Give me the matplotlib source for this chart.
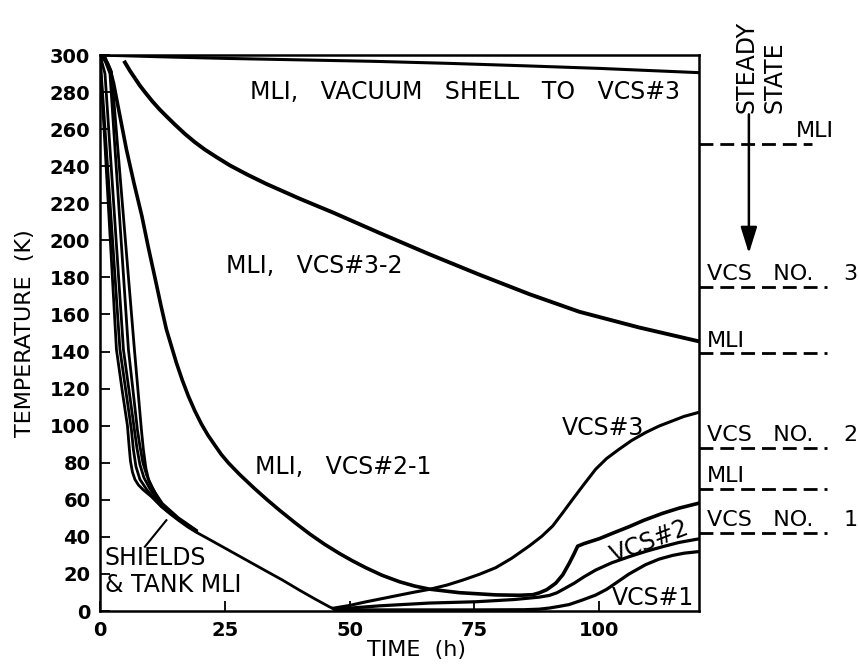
import matplotlib
matplotlib.use('Agg')
import matplotlib.pyplot as plt

plt.rcParams['font.family'] = 'DejaVu Sans'

# MLI between vacuum shell and VCS#3
vac_t = [0, 13, 25, 40, 55, 70, 85, 100, 120]
vac_T = [300, 299, 298.2, 297.4, 296.6, 295.5, 294.2, 292.8, 290.5]

# MLI between VCS#3 and VCS#2
m32_t = [5, 6, 7, 8, 9, 10.5, 12, 13.3, 15, 17, 19, 21, 23.3, 26, 29.5, 33.3, 40, 46.7,
         56, 66, 76, 86, 96, 108, 120]
m32_T = [296, 291.5, 287.5, 283.5, 280, 275, 270.5, 267, 262.5, 257.5, 253, 249, 245, 240.5,
         235.5, 230.5, 222.5, 215, 204, 192.5, 181.5, 171, 161.5, 153, 145.5]

# MLI between VCS#2 and VCS#1
m21_t = [0, 1, 2, 2.7, 4, 5.3, 6.8, 8.4, 9.7, 11, 12.2, 13.3, 14.3, 15.3, 16.5, 17.7, 19,
         20.3, 21.6, 23, 24.3, 25.7, 28, 31, 33.5, 36, 39, 42, 45, 48, 50.5, 53.3, 56.5, 60,
         63, 66, 72, 79.3, 84, 86.7, 88, 89.5, 91.3, 92.7, 94, 95, 95.7, 97, 100, 103, 106,
         109, 112.7, 116, 119.7]
m21_T = [300, 298.5, 292, 285, 267, 249, 231, 213, 196, 180, 165, 152, 143, 134, 124.5, 116,
         108, 101, 95, 89.5, 84.5, 80, 73.6, 66, 60, 54.3, 47.8, 41.6, 36, 31, 27.2, 23.3,
         19.3, 15.8, 13.5, 11.8, 9.9, 8.7, 8.5, 8.8, 9.8, 11.5, 15, 19.5, 25.7, 31, 35, 36.4,
         39, 42.3, 45.5, 49, 52.7, 55.5, 58]

# vapor cooled shields
vcs3_t = [46.7, 50, 53, 56.7, 60, 63, 66, 69.5, 72.7, 76, 79.3, 82.5, 86, 88.5, 90.7, 92.7,
          94.7, 97, 99.3, 101.5, 104, 106.5, 109.3, 112, 114.7, 117, 119.7]
vcs3_T = [1.5, 3, 4.8, 6.8, 8.6, 10.2, 11.7, 14, 16.7, 19.8, 23.4, 28.5, 35.1, 40.3, 45.9,
          53, 60.3, 68.5, 76.5, 82.3, 87.3, 92, 96.3, 99.8, 102.6, 105, 107]

vcs2_t = [47.3, 56, 66, 75.3, 83, 88, 90, 91.5, 93, 95, 97, 99.3, 102.5, 106, 109.5, 112.7,
          116, 119.7]
vcs2_T = [1, 2.8, 4.3, 5, 6.2, 7.5, 8.4, 9.8, 12, 15, 18.5, 22.1, 26, 29.3, 32.3, 34.7, 37,
          38.8]

vcs1_t = [47, 60, 75, 85, 88, 90, 92, 94, 96.5, 99.3, 101.5, 103.3, 106, 109.3, 112, 114.7,
          117, 119.7]
vcs1_T = [0.6, 0.6, 0.6, 0.7, 1, 1.6, 2.5, 3.5, 5.8, 8.6, 11.7, 15, 20, 25, 28, 30, 31.2, 32]

# shields & tank MLI bundle (first one continues down to the bottom)
shA_t = [0, 3.3, 4.5, 5.5, 5.8, 6.1, 6.5, 7, 7.7, 8.7, 10.3, 12.3, 14, 15.7, 17.5, 19.3,
         22, 24, 28, 33, 36.5, 40, 43, 46, 47]
shA_T = [299, 141, 118, 100, 90, 81, 75, 71, 68, 65.3, 61.7, 56.3, 52.5, 49, 45.5,
         42.5, 38.5, 35.5, 29.5, 22, 16.8, 11.2, 6.6, 2.2, 1]
shB_t = [0, 4.0, 6.3, 6.7, 7.2, 8, 9.5, 12.3, 15.7, 19.3]
shB_T = [300, 141, 97.7, 87, 78, 71, 65, 56.5, 49.3, 42.8]
shC_t = [0.3, 1, 4.7, 6.9, 7.4, 8, 8.8, 10, 12.3, 15.7, 19.3]
shC_T = [297, 290, 141, 97.7, 88, 79, 72, 66, 57, 49.6, 43]
shD_t = [0, 1, 2, 5.7, 7.5, 8, 8.6, 9.4, 10.5, 12.3, 15.7, 19.3]
shD_T = [300, 297, 290, 141, 97.7, 89, 80, 73, 66.5, 57.5, 50, 43.3]
shE_t = [0.5, 1.5, 2.3, 6.9, 8.3, 8.7, 9.2, 9.8, 11, 12.5, 15.7, 19.3]
shE_T = [298, 296, 291, 141, 97.7, 87, 77, 70, 64, 58, 50.3, 43.6]
shields = [(shA_t, shA_T), (shB_t, shB_T), (shC_t, shC_T), (shD_t, shD_T), (shE_t, shE_T)]

leader_t = [9, 13.3]
leader_T = [34.7, 49]

# steady state levels shown right of the plot
steady_T = [252, 175, 139, 88, 66, 42]
steady_lbl = ['MLI', 'VCS   NO.', 'MLI', 'VCS   NO.', 'MLI', 'VCS   NO.']
steady_num = ['', '3', '', '2', '', '1']
steady_end = [142.6, 145.6, 145.6, 145.6, 145.6, 145.6]

xticks = [0, 25, 50, 75, 100]
yticks = list(range(0, 301, 20))

fig = plt.figure(figsize=(8.59, 6.68), dpi=100)
ax = fig.add_axes([0.1164, 0.0853, 0.6973, 0.8323])

ax.plot(vac_t, vac_T, 'k-', lw=2.2)
ax.plot(m32_t, m32_T, 'k-', lw=2.8)
ax.plot(m21_t, m21_T, 'k-', lw=2.6)
ax.plot(vcs3_t, vcs3_T, 'k-', lw=2.2)
ax.plot(vcs2_t, vcs2_T, 'k-', lw=2.3)
ax.plot(vcs1_t, vcs1_T, 'k-', lw=2.3)
for st, sT in shields:
    ax.plot(st, sT, 'k-', lw=2.0)
ax.plot(leader_t, leader_T, 'k-', lw=1.5)

ax.set_xlim(0, 120)
ax.set_ylim(0, 300)
ax.set_xticks(xticks)
ax.set_yticks(yticks)
ax.tick_params(direction='in', length=7, width=1.3, labelsize=14, pad=7)
for lab in ax.get_xticklabels() + ax.get_yticklabels():
    lab.set_fontweight('bold')
for sp in ax.spines.values():
    sp.set_linewidth(1.8)

ax.set_xlabel('TIME  (h)', fontsize=16)
ax.xaxis.set_label_coords(0.528, -0.052)
ax.set_ylabel('TEMPERATURE  (K)', fontsize=16)
ax.yaxis.set_label_coords(-0.108, 0.5)

fs = 17
ax.text(30, 280, 'MLI,   VACUUM   SHELL   TO   VCS#3', fontsize=fs, va='center')
ax.text(25.2, 186, 'MLI,   VCS#3-2', fontsize=fs, va='center')
ax.text(31, 77.7, 'MLI,   VCS#2-1', fontsize=fs, va='center')
ax.text(92.6, 98.8, 'VCS#3', fontsize=fs, va='center')
ax.text(110.1, 37.4, 'VCS#2', fontsize=fs, va='center', ha='center', rotation=21)
ax.text(102.6, 7, 'VCS#1', fontsize=fs, va='center')
ax.text(1, 28.6, 'SHIELDS', fontsize=fs, va='center')
ax.text(1, 14, '& TANK MLI', fontsize=fs, va='center')

# steady state markers
for i, lev in enumerate(steady_T):
    ax.plot([120, steady_end[i]], [lev, lev], color='k', lw=2, dashes=(5, 2.5), clip_on=False)
    lx = 139.4 if i == 0 else 121.6
    ax.text(lx, lev + 1.5, steady_lbl[i], fontsize=16, va='bottom', ha='left', clip_on=False)
    if steady_num[i]:
        ax.text(149, lev + 1.5, steady_num[i], fontsize=16, va='bottom', ha='left', clip_on=False)

ax.annotate('', xy=(130, 193), xytext=(130, 268),
            arrowprops=dict(arrowstyle='-|>,head_length=0.8,head_width=0.25',
                            color='k', lw=1.8, mutation_scale=20, shrinkA=0, shrinkB=0),
            annotation_clip=False)
ax.text(132.4, 268.8, 'STEADY\nSTATE', fontsize=17, rotation=90, ha='center', va='bottom',
        multialignment='left', linespacing=1.2, clip_on=False)

fig.savefig('out.png', dpi=100)
